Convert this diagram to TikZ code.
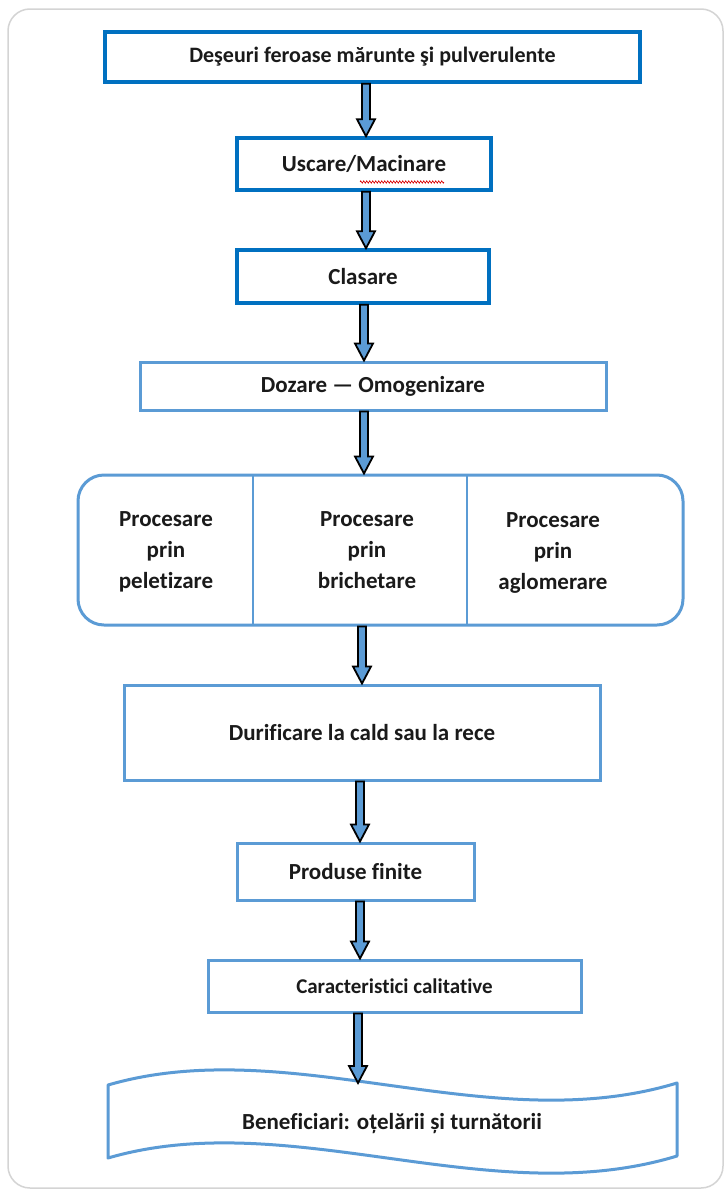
\documentclass[tikz,border=0pt]{standalone}
\usepackage{fontspec}
\setmainfont{Carlito}[Ligatures=NoCommon]
\usetikzlibrary{calc,decorations.pathmorphing}
\definecolor{darkblue}{HTML}{0070C0}
\definecolor{lightblue}{HTML}{5B9BD5}
\definecolor{framegray}{HTML}{D4D4D4}
\definecolor{txt}{HTML}{1A1A1A}
\newcommand\barrow[3]{%
  \draw[barrowst] let \p1=(#2), \p2=(#3) in
    (#1pt-4pt,\y1) -- (#1pt+4pt,\y1) -- (#1pt+4pt,\y2+17pt) -- (#1pt+9pt,\y2+17pt)
    -- (#1pt,\y2) -- (#1pt-9pt,\y2+17pt) -- (#1pt-4pt,\y2+17pt) -- cycle;}
\begin{document}
\begin{tikzpicture}[x=1pt,y=-1pt,
  darkbox/.style={draw=darkblue,line width=3.5pt,fill=white,inner sep=0pt,
    font=\fontsize{23}{28}\selectfont\bfseries,text=txt},
  lightbox/.style={draw=lightblue,line width=3pt,fill=white,inner sep=0pt,
    font=\fontsize{23}{28}\selectfont\bfseries,text=txt},
  celltext/.style={align=center,inner sep=0pt,font=\fontsize{23}{31}\selectfont\bfseries,text=txt},
  barrowst/.style={draw=black,line width=1.8pt,fill=lightblue,line join=miter},
  ]
\useasboundingbox (0,0) rectangle (727,1191);
\fill[white] (0,0) rectangle (727,1191);
\draw[framegray,line width=1.5pt,rounded corners=22pt] (8,9) rectangle (723,1188);

\node[darkbox,minimum width=535pt,minimum height=50pt,font=\fontsize{22}{26}\selectfont\bfseries] (b1) at (372.5,57) {Deşeuri feroase mărunte şi pulverulente};
\node[darkbox,minimum width=254pt,minimum height=52pt] (b2) at (364,164) {Uscare/Macinare};
\draw[red!85!black,line width=0.6pt,decorate,decoration={zigzag,amplitude=1.2pt,segment length=3pt}] (360,182) -- (444,182);
\node[darkbox,minimum width=252pt,minimum height=53pt] (b3) at (363,276.5) {Clasare};
\node[lightbox,minimum width=466pt,minimum height=48pt] (b4) at (373,386) {Dozare — Omogenizare};

\node[draw=lightblue,line width=3pt,rounded corners=26pt,minimum width=605pt,minimum height=150pt,inner sep=0pt] (proc) at (380.5,550) {};
\draw[lightblue,line width=2pt] (253,475) coordinate (d1t) -- (253,625) coordinate (d1b);
\draw[lightblue,line width=2pt] (467,475) coordinate (d2t) -- (467,625) coordinate (d2b);
\node[celltext] (p1) at (166,552) {Procesare\\prin\\peletizare};
\node[celltext] (p2) at (367,550) {Procesare\\prin\\brichetare};
\node[celltext] (p3) at (553,553) {Procesare\\prin\\aglomerare};

\node[lightbox,minimum width=476pt,minimum height=95pt] (b6) at (362,732.5) {Durificare la cald sau la rece};
\node[lightbox,minimum width=237pt,minimum height=57pt] (b7) at (355.5,871.5) {Produse finite};
\node[lightbox,minimum width=373pt,minimum height=52pt,font=\fontsize{21}{26}\selectfont\bfseries] (b8) at (394.5,986) {Caracteristici calitative};

\draw[lightblue,line width=3pt,line join=round,fill=white]
  (108,1085) .. controls (290,1032) and (490,1140) .. (677,1083)
  -- (677,1156) .. controls (490,1213) and (290,1105) .. (108,1158) -- cycle;
\coordinate (wtop) at (358,1083);
\node[inner sep=0pt,font=\fontsize{23}{28}\selectfont\bfseries,text=txt] (b9) at (392,1124) {Beneficiari: oțelării și turnătorii};

\barrow{366}{b1.south}{b2.north}
\barrow{366}{b2.south}{b3.north}
\barrow{364}{b3.south}{b4.north}
\barrow{364}{b4.south}{proc.north}
\barrow{362}{proc.south}{b6.north}
\barrow{360}{b6.south}{b7.north}
\barrow{360}{b7.south}{b8.north}
\barrow{358}{b8.south}{wtop}
\end{tikzpicture}
\end{document}
